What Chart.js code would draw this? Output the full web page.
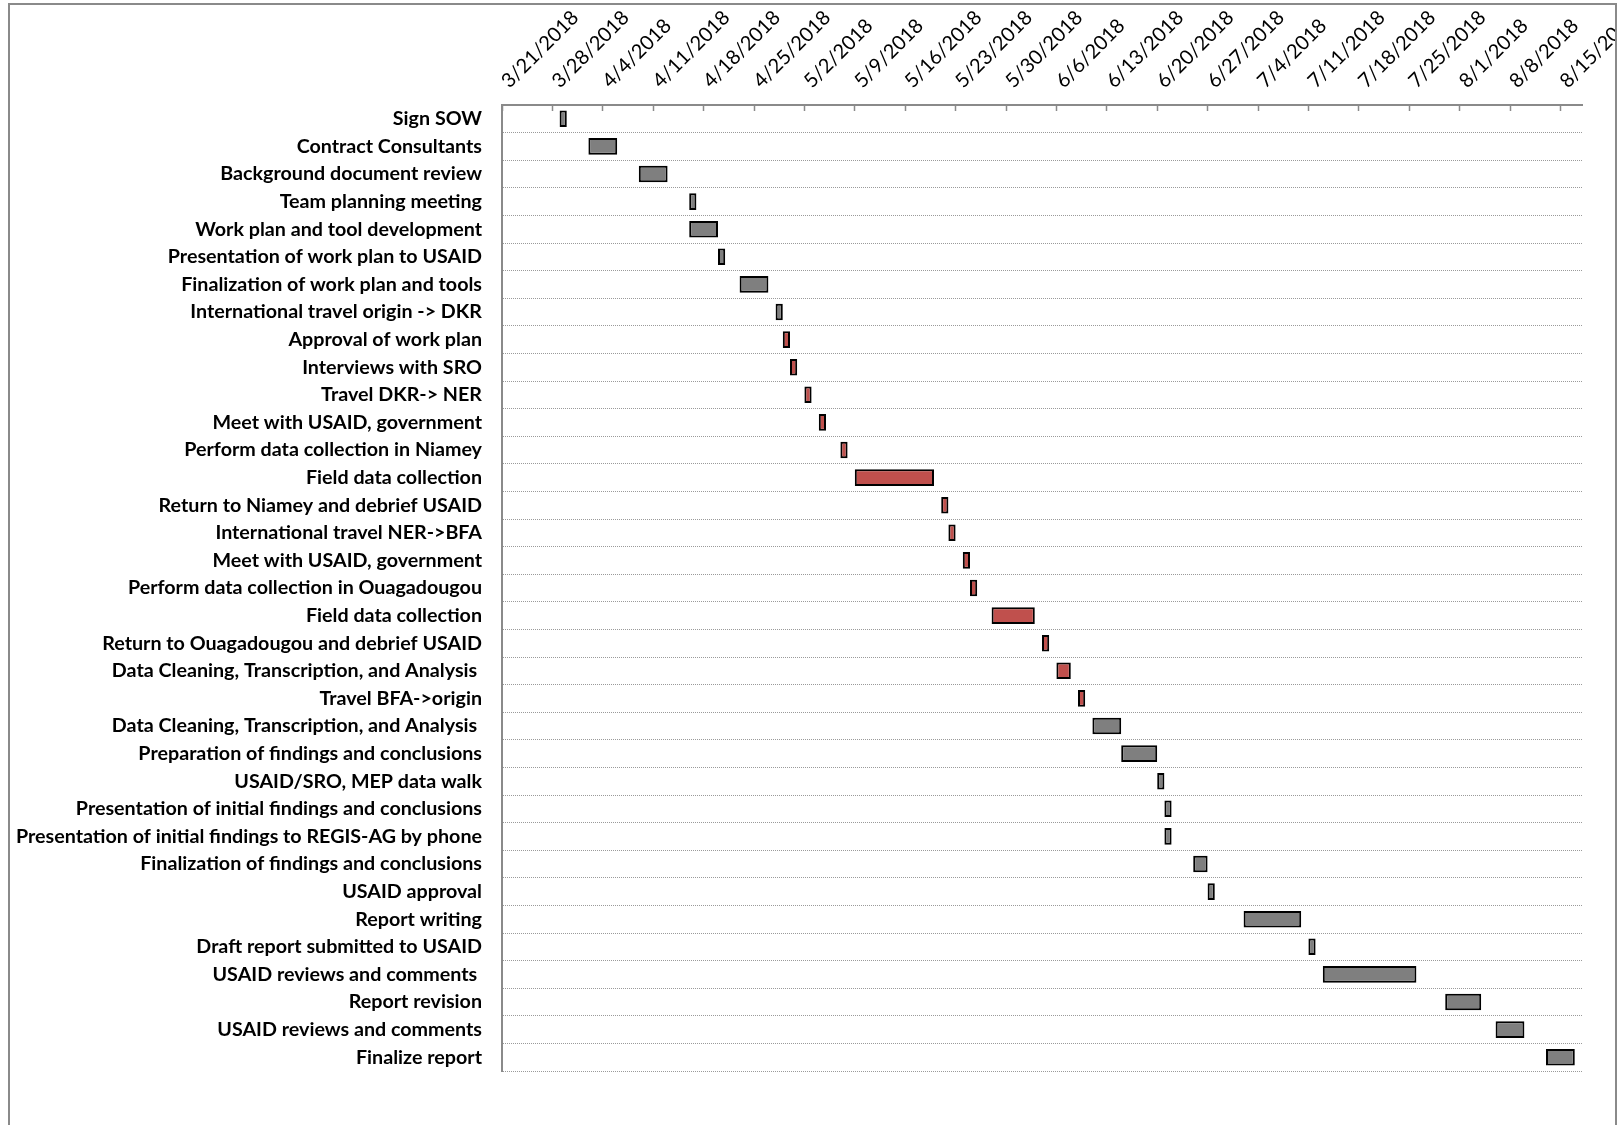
<!DOCTYPE html>
<html>
<head>
<meta charset="utf-8">
<script src="https://cdn.jsdelivr.net/npm/chart.js@4.4.1/dist/chart.umd.min.js"></script>
<style>
  html, body { margin: 0; padding: 0; background: #ffffff; width: 1618px; height: 1125px; overflow: hidden; }
  #frame { position: absolute; left: 8px; top: 3px; width: 1605px; height: 1130px; border: 2px solid #8a8a8a; border-bottom: none; overflow: hidden; background: #fff; }
  #chart { position: absolute; left: 0; top: 0; }
</style>
</head>
<body>
<div id="frame"><canvas id="chart" width="1605" height="1120"></canvas></div>
<script>
// ---- Data ----
const tasks = [
  'Sign SOW',
  'Contract Consultants',
  'Background document review',
  'Team planning meeting',
  'Work plan and tool development',
  'Presentation of work plan to USAID',
  'Finalization of work plan and tools',
  'International travel origin -> DKR',
  'Approval of work plan',
  'Interviews with SRO',
  'Travel DKR-> NER',
  'Meet with USAID, government',
  'Perform data collection in Niamey',
  'Field data collection',
  'Return to Niamey and debrief USAID',
  'International travel NER->BFA',
  'Meet with USAID, government',
  'Perform data collection in Ouagadougou',
  'Field data collection',
  'Return to Ouagadougou and debrief USAID',
  'Data Cleaning, Transcription, and Analysis ',
  'Travel BFA->origin',
  'Data Cleaning, Transcription, and Analysis ',
  'Preparation of findings and conclusions',
  'USAID/SRO, MEP data walk',
  'Presentation of initial findings and conclusions',
  'Presentation of initial findings to REGIS-AG by phone',
  'Finalization of findings and conclusions',
  'USAID approval',
  'Report writing',
  'Draft report submitted to USAID',
  'USAID reviews and comments ',
  'Report revision',
  'USAID reviews and comments',
  'Finalize report'
];

const startDates = [
  '2018-03-29', '2018-04-02', '2018-04-09', '2018-04-16', '2018-04-16',
  '2018-04-20', '2018-04-23', '2018-04-28', '2018-04-29', '2018-04-30',
  '2018-05-02', '2018-05-04', '2018-05-07', '2018-05-09', '2018-05-21',
  '2018-05-22', '2018-05-24', '2018-05-25', '2018-05-28', '2018-06-04',
  '2018-06-06', '2018-06-09', '2018-06-11', '2018-06-15', '2018-06-20',
  '2018-06-21', '2018-06-21', '2018-06-25', '2018-06-27', '2018-07-02',
  '2018-07-11', '2018-07-13', '2018-07-30', '2018-08-06', '2018-08-13'
];

const endDates = [
  '2018-03-30', '2018-04-06', '2018-04-13', '2018-04-17', '2018-04-20',
  '2018-04-21', '2018-04-27', '2018-04-29', '2018-04-30', '2018-05-01',
  '2018-05-03', '2018-05-05', '2018-05-08', '2018-05-20', '2018-05-22',
  '2018-05-23', '2018-05-25', '2018-05-26', '2018-06-03', '2018-06-05',
  '2018-06-08', '2018-06-10', '2018-06-15', '2018-06-20', '2018-06-21',
  '2018-06-22', '2018-06-22', '2018-06-27', '2018-06-28', '2018-07-10',
  '2018-07-12', '2018-07-26', '2018-08-04', '2018-08-10', '2018-08-17'
];

// phase of each task: 'office' or 'field'
const phases = [
  'office', 'office', 'office', 'office', 'office', 'office', 'office', 'office',
  'field', 'field', 'field', 'field', 'field', 'field', 'field', 'field',
  'field', 'field', 'field', 'field', 'field', 'field',
  'office', 'office', 'office', 'office', 'office', 'office', 'office',
  'office', 'office', 'office', 'office', 'office', 'office'
];

const tickLabels = [
  '3/21/2018', '3/28/2018', '4/4/2018', '4/11/2018', '4/18/2018', '4/25/2018',
  '5/2/2018', '5/9/2018', '5/16/2018', '5/23/2018', '5/30/2018', '6/6/2018',
  '6/13/2018', '6/20/2018', '6/27/2018', '7/4/2018', '7/11/2018', '7/18/2018',
  '7/25/2018', '8/1/2018', '8/8/2018', '8/15/2018'
];

const axisStart = '2018-03-21';
const axisEnd = '2018-08-18';

// ---- Helpers ----
function isoToUTC(s) { const [y, m, d] = s.split('-').map(Number); return Date.UTC(y, m - 1, d); }
function mdyToUTC(s) { const [m, d, y] = s.split('/').map(Number); return Date.UTC(y, m - 1, d); }
const origin = isoToUTC(axisStart);
const dayOf = ms => (ms - origin) / 86400000;

const barData = startDates.map((s, i) => [dayOf(isoToUTC(s)), dayOf(isoToUTC(endDates[i]))]);
const tickValues = tickLabels.map(t => dayOf(mdyToUTC(t)));

const phaseColor = { office: '#7f7f7f', field: '#c0504d' };

Chart.defaults.font.family = 'Lato';

new Chart(document.getElementById('chart'), {
  type: 'bar',
  data: {
    labels: tasks,
    datasets: [{
      data: barData,
      backgroundColor: phases.map(p => phaseColor[p]),
      borderColor: '#000000',
      borderWidth: 2,
      borderSkipped: false,
      barPercentage: 0.6,
      categoryPercentage: 1.0
    }]
  },
  options: {
    indexAxis: 'y',
    responsive: false,
    animation: false,
    layout: { padding: { left: 0, top: 0, right: 33, bottom: 54 } },
    plugins: { legend: { display: false }, tooltip: { enabled: false } },
    scales: {
      x: {
        type: 'linear',
        position: 'top',
        min: 0,
        max: dayOf(isoToUTC(axisEnd)),
        afterBuildTicks: s => { s.ticks = tickValues.map(v => ({ value: v })); },
        afterFit: s => { s.height = 100; s.paddingLeft = 0; s.paddingRight = 0; },
        ticks: {
          minRotation: 45, maxRotation: 45, autoSkip: false,
          padding: 18, labelOffset: 20,
          color: '#000000',
          font: { family: 'Lato', size: 20 },
          callback: (v, i) => tickLabels[i]
        },
        grid: { drawOnChartArea: false, drawTicks: true, tickLength: -6, tickColor: '#8a8a8a', tickWidth: 1.5 },
        border: { display: true, color: '#8a8a8a', width: 2 }
      },
      y: {
        type: 'category',
        offset: true,
        afterFit: s => { s.width = 492; },
        ticks: {
          autoSkip: false, padding: 20, color: '#000000',
          font: { family: 'Lato', size: 19.7, weight: 'bold' }
        },
        grid: { offset: true, drawTicks: false, color: '#9a9a9a', lineWidth: 1 },
        border: { display: true, color: '#8a8a8a', width: 2, dash: [1, 1] }
      }
    }
  }
});
</script>
</body>
</html>
